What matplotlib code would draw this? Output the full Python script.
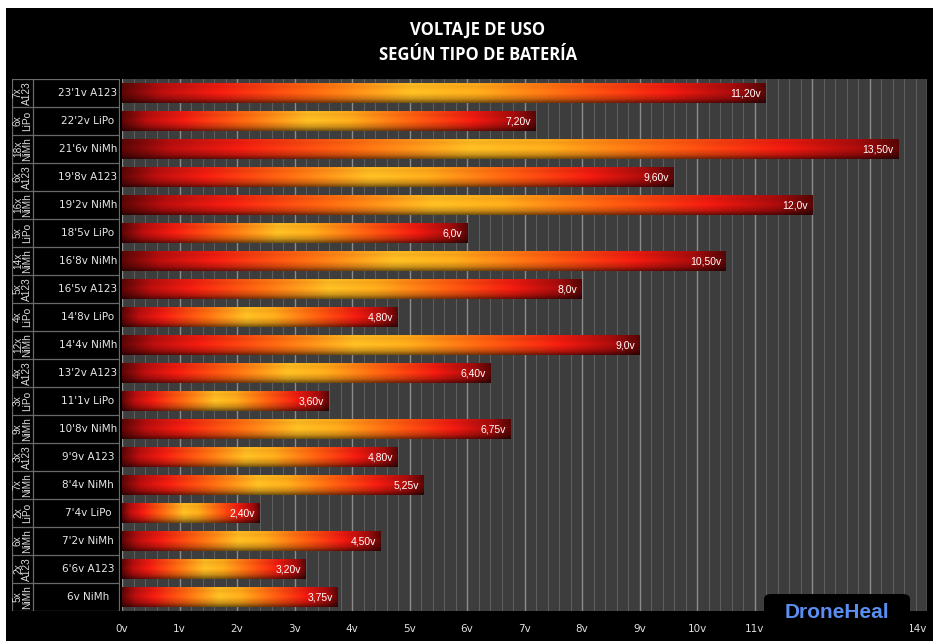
import numpy as np
import matplotlib
matplotlib.use("Agg")
import matplotlib.pyplot as plt
from matplotlib.colors import LinearSegmentedColormap
from matplotlib.patches import FancyBboxPatch, Rectangle

# ---- data (top to bottom) ----
cells = ["7x", "6x", "18x", "6x", "16x", "5x", "14x", "5x", "4x", "12x",
         "4x", "3x", "9x", "3x", "7x", "2x", "6x", "2x", "5x"]
chem = ["A123", "LiPo", "NiMh", "A123", "NiMh", "LiPo", "NiMh", "A123", "LiPo", "NiMh",
        "A123", "LiPo", "NiMh", "A123", "NiMh", "LiPo", "NiMh", "A123", "NiMh"]
packs = ["23'1v A123", "22'2v LiPo", "21'6v NiMh", "19'8v A123", "19'2v NiMh",
         "18'5v LiPo", "16'8v NiMh", "16'5v A123", "14'8v LiPo", "14'4v NiMh",
         "13'2v A123", "11'1v LiPo", "10'8v NiMh", "9'9v A123", "8'4v NiMh",
         "7'4v LiPo", "7'2v NiMh", "6'6v A123", "6v NiMh"]
volts = [11.20, 7.20, 13.50, 9.60, 12.0, 6.0, 10.50, 8.0, 4.80, 9.0,
         6.40, 3.60, 6.75, 4.80, 5.25, 2.40, 4.50, 3.20, 3.75]
vlabels = ["11,20v", "7,20v", "13,50v", "9,60v", "12,0v", "6,0v", "10,50v", "8,0v",
           "4,80v", "9,0v", "6,40v", "3,60v", "6,75v", "4,80v", "5,25v", "2,40v",
           "4,50v", "3,20v", "3,75v"]
xticks = list(range(0, 15))
xticklabels = [f"{t}v" for t in xticks]

W, H = 933, 641
fig = plt.figure(figsize=(W / 100, H / 100), dpi=100, facecolor="black")

# white strips (top / left border of the original picture)
fig.patches.append(Rectangle((0, 1 - 8 / H), 1, 8 / H, transform=fig.transFigure,
                             facecolor="white", edgecolor="none", zorder=0))
fig.patches.append(Rectangle((0, 0), 6 / W, 1, transform=fig.transFigure,
                             facecolor="white", edgecolor="none", zorder=0))

top_px, bot_px = 79, 611
left_px, right_px = 122, 927
ax = fig.add_axes([left_px / W, 1 - bot_px / H, (right_px - left_px) / W, (bot_px - top_px) / H])
ax.set_facecolor("#3d3d3d")
n = len(volts)
y = np.arange(n)
ax.set_xlim(0, 14)
ax.set_ylim(n - 0.5, -0.5)

# grid
for xv in np.arange(0, 14.01, 0.2):
    is_major = abs(xv - round(xv)) < 1e-6
    ax.axvline(xv, color="#8c8c8c" if is_major else "#5e5e5e",
               lw=1.0 if is_major else 0.8, zorder=1)

bars = ax.barh(y, volts, height=0.72, color="none", edgecolor="none", zorder=3)

cmap = LinearSegmentedColormap.from_list("bar", [
    (0.00, "#5e0606"), (0.06, "#b80e0e"), (0.15, "#f01c10"), (0.30, "#ff6a10"),
    (0.45, "#ffbc22"), (0.55, "#ffaa1a"), (0.70, "#ff6010"), (0.85, "#ee1a10"),
    (0.95, "#a80c0c"), (1.00, "#5a0606")])
hx = np.linspace(0, 1, 256)
rgb = cmap(hx)[:, :3]
vy = np.linspace(0, 1, 40)
prof = np.interp(vy, [0, 0.08, 0.2, 0.5, 0.8, 1.0], [0.9, 1.0, 0.95, 1.05, 0.8, 0.45])
img = np.clip(rgb[None, :, :] * prof[:, None, None], 0, 1)

for b, lab in zip(bars, vlabels):
    x0, y0 = b.get_x(), b.get_y()
    w, h = b.get_width(), b.get_height()
    im = ax.imshow(img, extent=[x0, x0 + w, y0 + h, y0], aspect="auto",
                   interpolation="bilinear", zorder=3)
    im.set_clip_path(b)
    ax.text(x0 + w - 0.08, y0 + h / 2, lab, ha="right", va="center", color="white",
            fontsize=7.5, family="Liberation Sans", zorder=5)

ax.set_xlim(0, 14)
ax.set_ylim(n - 0.5, -0.5)
ax.set_yticks([])
ax.set_xticks(xticks)
ax.set_xticklabels(xticklabels, color="#e0e0e0", fontsize=7.5)
ax.get_xticklabels()[-1].set_horizontalalignment("right")
ax.tick_params(axis="x", length=0, pad=9)
for s in ax.spines.values():
    s.set_visible(False)

# left label table
tax = fig.add_axes([12 / W, 1 - bot_px / H, (120 - 12) / W, (bot_px - top_px) / H])
tax.set_facecolor("black")
tax.set_xlim(0, 108)
tax.set_ylim(n - 0.5, -0.5)
tax.axis("off")
lc = "#6a6a6a"
for i in range(n + 1):
    tax.plot([0, 108], [i - 0.5, i - 0.5], color=lc, lw=0.9)
tax.plot([0, 0], [-0.5, n - 0.5], color=lc, lw=0.9)
tax.plot([21, 21], [-0.5, n - 0.5], color=lc, lw=0.9)
tax.plot([107.5, 107.5], [-0.5, n - 0.5], color=lc, lw=0.9)
for i in range(n):
    tax.text(10.5, i, f"{cells[i]}\n{chem[i]}", rotation=90, ha="center", va="center",
             color="#dcdcdc", fontsize=7.3, linespacing=0.88, family="Liberation Sans")
    tax.text(76, i, packs[i], ha="center", va="center", color="#e8e8e8", fontsize=7.5)

# title
fig.text(478 / W, 1 - 30 / H, "VOLTAJE DE USO", ha="center", va="center",
         color="white", fontsize=12, fontweight="bold", family="Open Sans")
fig.text(478 / W, 1 - 55 / H, "SEGÚN TIPO DE BATERÍA", ha="center", va="center",
         color="white", fontsize=12, fontweight="bold", family="Open Sans")

# watermark
box = FancyBboxPatch((764 / W, 1 - 638 / H), 146 / W, 44 / H,
                     boxstyle="round,pad=0,rounding_size=0.008",
                     transform=fig.transFigure, facecolor="black", edgecolor="none",
                     zorder=10)
fig.patches.append(box)
fig.text(837 / W, 1 - 612 / H, "DroneHeal", ha="center", va="center", color="#5a8ef0",
         fontsize=15, fontweight="bold", family="Liberation Sans", zorder=11)

fig.savefig("out.png", dpi=100, facecolor="black")
